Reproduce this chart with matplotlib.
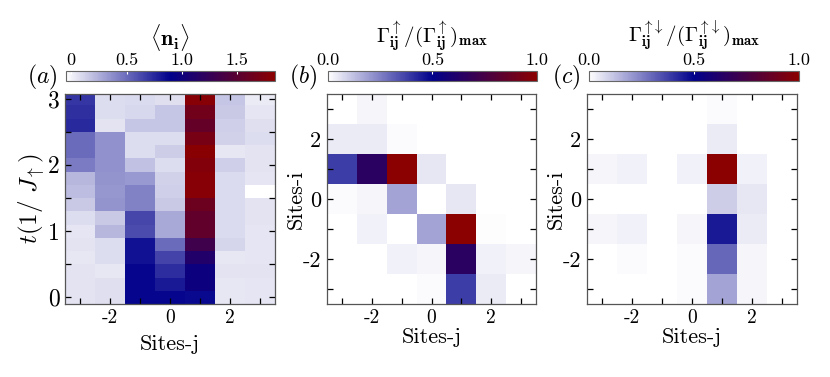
import numpy as np
import matplotlib
matplotlib.use("Agg")
import matplotlib.pyplot as plt
from matplotlib.colors import LinearSegmentedColormap

plt.rcParams['font.family'] = 'serif'
plt.rcParams['font.serif'] = ['cmr10', 'DejaVu Serif']
plt.rcParams['mathtext.fontset'] = 'cm'
plt.rcParams['axes.formatter.use_mathtext'] = True
plt.rcParams['axes.unicode_minus'] = False

# ---------------- data ----------------
sites = [-3, -2, -1, 0, 1, 2, 3]
times = [0.0, 0.2, 0.4, 0.6, 0.8, 1.0, 1.2, 1.4, 1.6, 1.8, 2.0, 2.2, 2.4, 2.6, 2.8, 3.0]

# density <n_i>, rows = times, cols = sites
density = [
    [0.06, 0.07, 0.88, 0.88, 0.86, 0.04, 0.05],
    [0.06, 0.07, 0.88, 0.80, 0.98, 0.04, 0.05],
    [0.06, 0.04, 0.88, 0.73, 0.98, 0.06, 0.06],
    [0.04, 0.08, 0.83, 0.65, 1.12, 0.04, 0.05],
    [0.06, 0.08, 0.83, 0.50, 1.32, 0.11, 0.05],
    [0.05, 0.22, 0.62, 0.27, 1.55, 0.09, 0.05],
    [0.08, 0.15, 0.64, 0.27, 1.55, 0.09, 0.06],
    [0.15, 0.35, 0.42, 0.15, 1.63, 0.09, 0.06],
    [0.20, 0.34, 0.42, 0.13, 1.80, 0.09, -0.05],
    [0.22, 0.35, 0.33, 0.12, 1.80, 0.09, 0.05],
    [0.44, 0.36, 0.18, 0.08, 1.78, 0.13, 0.06],
    [0.50, 0.36, 0.08, 0.14, 1.82, 0.04, 0.06],
    [0.50, 0.36, 0.08, 0.08, 1.70, 0.12, 0.08],
    [0.74, 0.06, 0.17, 0.17, 1.57, 0.13, 0.07],
    [0.72, 0.08, 0.10, 0.17, 1.66, 0.15, 0.05],
    [0.70, 0.08, 0.09, 0.07, 1.80, 0.17, 0.03],
]

# Gamma_up normalized, rows = sites-i from -3 (bottom) to 3 (top), cols = sites-j
gamma_up = [
    [0.00, 0.00, 0.00, 0.01, 0.38, 0.04, 0.00],
    [0.00, 0.00, 0.03, 0.02, 0.65, 0.03, 0.02],
    [0.00, 0.03, 0.00, 0.18, 1.00, 0.005, 0.00],
    [0.01, 0.02, 0.18, 0.00, 0.05, 0.00, 0.00],
    [0.38, 0.65, 1.00, 0.05, 0.00, 0.00, 0.00],
    [0.04, 0.04, 0.01, 0.00, 0.00, 0.00, 0.00],
    [0.00, 0.02, 0.00, 0.00, 0.00, 0.00, 0.00],
]

# Gamma_updown normalized
gamma_updown = [
    [0.00, 0.00, 0.00, 0.01, 0.18, 0.02, 0.00],
    [0.00, 0.01, 0.00, 0.01, 0.30, 0.02, 0.00],
    [0.02, 0.03, 0.00, 0.02, 0.45, 0.04, 0.00],
    [0.00, 0.00, 0.00, 0.00, 0.10, 0.05, 0.00],
    [0.02, 0.03, 0.00, 0.03, 1.00, 0.03, 0.00],
    [0.00, 0.00, 0.00, 0.00, 0.04, 0.00, 0.00],
    [0.00, 0.00, 0.00, 0.00, 0.01, 0.00, 0.00],
]

site_ticklabels = ['', '-2', '', '0', '', '2', '']
time_ticks = [0, 0.5, 1, 1.5, 2, 2.5, 3]
time_ticklabels = ['0', '', '1', '', '2', '', '3']
cbar_a_ticks = [0, 0.5, 1.0, 1.5]
cbar_a_labels = ['0', '0.5', '1.0', '1.5']
cbar_bc_ticks = [0.0, 0.5, 1.0]
cbar_bc_labels = ['0.0', '0.5', '1.0']

cmap = LinearSegmentedColormap.from_list('wbr', ['white', '#00008b', '#8b0000'])

W, H = 830, 377
fig = plt.figure(figsize=(W / 100, H / 100), dpi=100)

def fr(x0, y_top, w, h):
    return [x0 / W, 1 - (y_top + h) / H, w / W, h / H]

ax_a = fig.add_axes(fr(65, 94, 210, 210))
ax_b = fig.add_axes(fr(327, 94, 209, 210))
ax_c = fig.add_axes(fr(587, 94, 210, 210))
cax_a = fig.add_axes(fr(65.7, 71, 209.3, 10))
cax_b = fig.add_axes(fr(327.7, 71, 209.3, 10))
cax_c = fig.add_axes(fr(589, 71, 210, 10))

spine_col = '#555555'

def style(ax):
    ax.tick_params(direction='in', top=True, right=True, length=4.5, width=0.9,
                   color='black', pad=4)
    for s in ax.spines.values():
        s.set_color(spine_col)
        s.set_linewidth(0.9)

# panel a
m_a = ax_a.pcolormesh(sites, times, np.array(density), cmap=cmap, vmin=-0.05, vmax=1.84,
                      shading='nearest')
ax_a.set_xlim(-3.5, 3.5)
ax_a.set_ylim(-0.1, 3.07)
ax_a.set_xticks(sites)
ax_a.set_xticklabels(site_ticklabels, fontsize=14)
ax_a.set_yticks(time_ticks)
ax_a.set_yticklabels(time_ticklabels, fontsize=17)
ax_a.set_xlabel('Sites-j', fontsize=16, labelpad=5)
ax_a.set_ylabel(r'$t(1/\ J_{\uparrow})$', fontsize=18, labelpad=1)
style(ax_a)

for ax, data in [(ax_b, gamma_up), (ax_c, gamma_updown)]:
    ax.pcolormesh(sites, sites, np.array(data), cmap=cmap, vmin=0, vmax=1,
                  shading='nearest')
    ax.set_xlim(-3.5, 3.5)
    ax.set_ylim(-3.5, 3.5)
    ax.set_xticks(sites)
    ax.set_xticklabels(site_ticklabels, fontsize=14)
    ax.set_yticks(sites)
    ax.set_yticklabels(site_ticklabels, fontsize=16)
    ax.set_xlabel('Sites-j', fontsize=16, labelpad=0)
    ax.set_ylabel('Sites-i', fontsize=16, labelpad=-2)
    style(ax)
m_b = ax_b.collections[0]
m_c = ax_c.collections[0]

def cbar(m, cax, ticks, labels):
    cb = fig.colorbar(m, cax=cax, orientation='horizontal')
    cb.set_ticks(ticks)
    cb.set_ticklabels(labels)
    cax.xaxis.set_ticks_position('top')
    cax.tick_params(direction='in', color='white', length=2, width=0.8,
                    labelsize=13, pad=2)
    cb.outline.set_edgecolor('#666666')
    cb.outline.set_linewidth(0.8)
    return cb

cbar(m_a, cax_a, cbar_a_ticks, cbar_a_labels)
cbar(m_b, cax_b, cbar_bc_ticks, cbar_bc_labels)
cbar(m_c, cax_c, cbar_bc_ticks, cbar_bc_labels)

fig.text(170 / W, 1 - 38 / H, r'$\langle \mathbf{n_i} \rangle$', fontsize=16,
         ha='center', va='center')
fig.text(432 / W, 1 - 36 / H,
         r'$\boldsymbol{\Gamma}^{\uparrow}_{\mathbf{ij}}/(\boldsymbol{\Gamma}^{\uparrow}_{\mathbf{ij}})_{\mathbf{max}}$',
         fontsize=15, ha='center', va='center')
fig.text(694 / W, 1 - 36 / H,
         r'$\boldsymbol{\Gamma}^{\uparrow\!\downarrow}_{\mathbf{ij}}/(\boldsymbol{\Gamma}^{\uparrow\!\downarrow}_{\mathbf{ij}})_{\mathbf{max}}$',
         fontsize=15, ha='center', va='center')

fig.text(42 / W, 1 - 77 / H, r'$(a)$', fontsize=17, ha='center', va='center')
fig.text(303 / W, 1 - 77 / H, r'$(b)$', fontsize=17, ha='center', va='center')
fig.text(566 / W, 1 - 77 / H, r'$(c)$', fontsize=17, ha='center', va='center')

fig.savefig('out.png', dpi=100)
